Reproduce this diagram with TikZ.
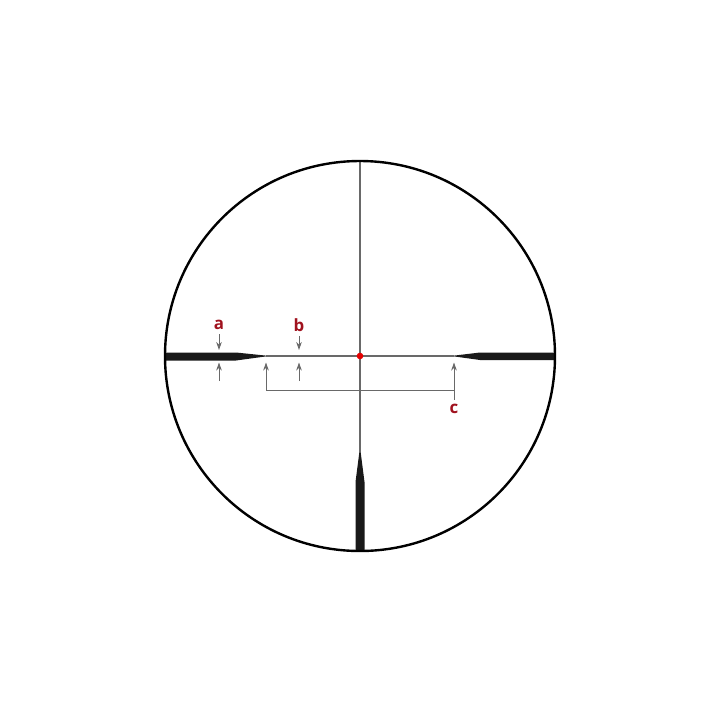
\documentclass[tikz,border=0pt]{standalone}
\usepackage{fontspec}
\setsansfont{Open Sans}
\usetikzlibrary{arrows.meta}
\definecolor{labelred}{RGB}{160,18,30}
\definecolor{hairgray}{RGB}{105,105,105}
\tikzset{
    dimarrow/.style={draw=hairgray, line width=0.25mm, -{Stealth[length=2mm,width=1.4mm]}},
    dimline/.style={draw=hairgray, line width=0.25mm},
    dimlabel/.style={text=labelred, font=\sffamily\bfseries\large, inner sep=0pt}
}
\begin{document}
\begin{tikzpicture}[x=0.25mm, y=-0.25mm]
\useasboundingbox (0,0) rectangle (720,720);

% hairlines
    \coordinate (centre) at (360,356);
    \coordinate (left tip) at (266,356);
    \coordinate (right tip) at (454,356);
    \coordinate (bottom tip) at (360,451);
    \coordinate (top end) at (360,161);
    \draw[hairgray, line width=0.3mm] (left tip) -- (right tip);
    \draw[hairgray, line width=0.3mm] (top end) -- (bottom tip);

% thick posts
    \fill[black!90] (166,352.5) -- (236,352.5) -- (266,355.6) -- (266,356.4) -- (236,360.5) -- (166,360.5) -- cycle;
    \fill[black!90] (554,352.5) -- (480,352.5) -- (454,355.6) -- (454,356.4) -- (480,360) -- (554,360) -- cycle;
    \fill[black!90] (355.5,550) -- (355.5,482) -- (359.5,451) -- (360.5,451) -- (364.5,482) -- (364.5,550) -- cycle;

% ring
    \draw[black, line width=0.6mm] (centre) circle (195);

% centre dot
    \fill[red!90!black] (centre) circle (3.3);

% labels a and b
    \node[dimlabel] (a) at (219,325) {a};
    \node[dimlabel] (b) at (299,325) {b};
    \coordinate (a top) at (219,350);
    \coordinate (a foot) at (219,381);
    \coordinate (a bottom) at (219,362.5);
    \coordinate (b top) at (299,350);
    \coordinate (b foot) at (299,381);
    \coordinate (b bottom) at (299,362.5);
    \draw[dimarrow] (a.south) ++(0,4) -- (a top);
    \draw[dimarrow] (a foot) -- (a bottom);
    \draw[dimarrow] (b.south) ++(0,4) -- (b top);
    \draw[dimarrow] (b foot) -- (b bottom);

% bracket c
    \node[dimlabel] (c) at (454,409) {c};
    \coordinate (c left) at (266,362.5);
    \coordinate (c right) at (454,362.5);
    \coordinate (c corner l) at (266,390);
    \coordinate (c corner r) at (454,390);
    \draw[dimline] (c corner l) -- (c corner r);
    \draw[dimarrow] (c corner l) -- (c left);
    \draw[dimarrow] (c.north) ++(0,-4) -- (c right);
\end{tikzpicture}
\end{document}
